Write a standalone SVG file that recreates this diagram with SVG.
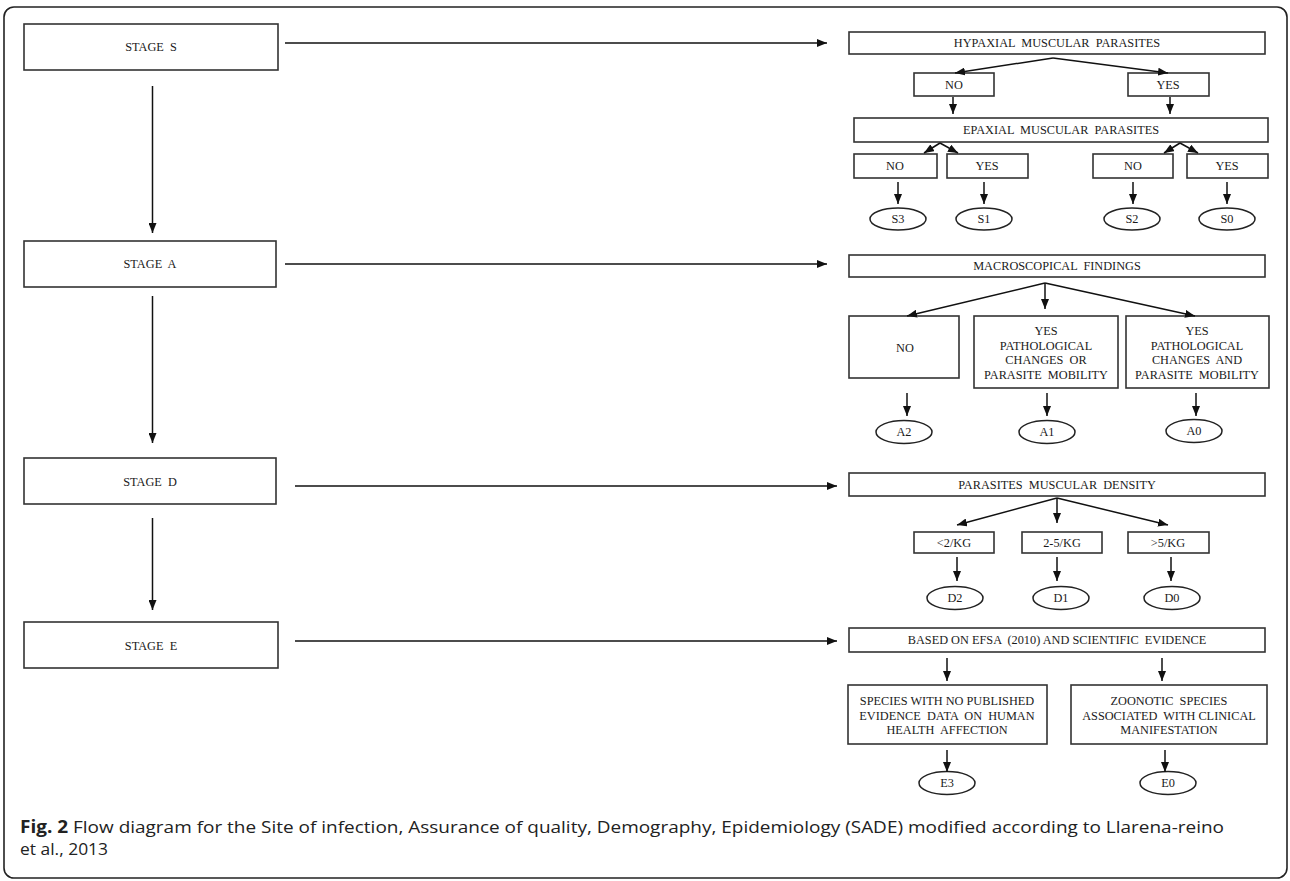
<svg xmlns="http://www.w3.org/2000/svg" width="1290" height="881" viewBox="0 0 1290 881">
<defs>
<marker id="ah" markerUnits="userSpaceOnUse" markerWidth="10" markerHeight="8" refX="10" refY="4" orient="auto"><path d="M0,0 L10,4 L0,8 z" fill="#111"/></marker>
<style>
.box{fill:#fff;stroke:#333;stroke-width:1.6}
.ell{fill:#fff;stroke:#222;stroke-width:1.5}
.t{font-family:"Liberation Serif","Times New Roman",serif;font-size:12.3px;fill:#1a1a1a;text-anchor:middle;dominant-baseline:central;white-space:pre}
.c{stroke:#111;stroke-width:1.5;fill:none;marker-end:url(#ah)}
.cap{font-family:"Open Sans","Noto Sans",sans-serif;font-size:17px;fill:#222}
</style>
</defs>
<rect width="1290" height="881" fill="#fff"/>
<rect x="4" y="7" width="1283" height="871" rx="10" fill="none" stroke="#222" stroke-width="1.6"/>

<g id="stageS"><rect class="box" x="24" y="24" width="254" height="46"/><text class="t" x="151" y="47">STAGE  S</text></g>
<g id="stageA"><rect class="box" x="24" y="241" width="252" height="46"/><text class="t" x="150" y="264">STAGE  A</text></g>
<g id="stageD"><rect class="box" x="24" y="458" width="252" height="46"/><text class="t" x="150" y="482">STAGE  D</text></g>
<g id="stageE"><rect class="box" x="24" y="622" width="254" height="46"/><text class="t" x="151" y="646">STAGE  E</text></g>

<g id="hyp"><rect class="box" x="849" y="32" width="416" height="22"/><text class="t" x="1057" y="43">HYPAXIAL  MUSCULAR  PARASITES</text></g>
<g id="hypNo"><rect class="box" x="914" y="73" width="80" height="23"/><text class="t" x="954" y="85">NO</text></g>
<g id="hypYes"><rect class="box" x="1128" y="73" width="81" height="23"/><text class="t" x="1168" y="85">YES</text></g>
<g id="epa"><rect class="box" x="854" y="118" width="414" height="24"/><text class="t" x="1061" y="130">EPAXIAL  MUSCULAR  PARASITES</text></g>
<g id="epaNo1"><rect class="box" x="854" y="154" width="83" height="24"/><text class="t" x="895" y="166">NO</text></g>
<g id="epaYes1"><rect class="box" x="947" y="154" width="81" height="24"/><text class="t" x="987" y="166">YES</text></g>
<g id="epaNo2"><rect class="box" x="1093" y="154" width="80" height="24"/><text class="t" x="1133" y="166">NO</text></g>
<g id="epaYes2"><rect class="box" x="1187" y="154" width="81" height="24"/><text class="t" x="1227" y="166">YES</text></g>
<g id="S3"><ellipse class="ell" cx="898" cy="219" rx="28" ry="11"/><text class="t" x="898" y="219">S3</text></g>
<g id="S1"><ellipse class="ell" cx="984" cy="219" rx="28" ry="11"/><text class="t" x="984" y="219">S1</text></g>
<g id="S2"><ellipse class="ell" cx="1132" cy="219" rx="28" ry="11"/><text class="t" x="1132" y="219">S2</text></g>
<g id="S0"><ellipse class="ell" cx="1227" cy="219" rx="28" ry="11"/><text class="t" x="1227" y="219">S0</text></g>

<g id="macro"><rect class="box" x="849" y="255" width="416" height="22"/><text class="t" x="1057" y="266">MACROSCOPICAL  FINDINGS</text></g>
<g id="aNo"><rect class="box" x="849" y="316" width="110" height="62"/><text class="t" x="905" y="348">NO</text></g>
<g id="aYesOr"><rect class="box" x="974" y="316" width="144" height="72"/><text class="t" x="1046"><tspan x="1046" y="331">YES</tspan><tspan x="1046" y="345.5">PATHOLOGICAL</tspan><tspan x="1046" y="360">CHANGES  OR</tspan><tspan x="1046" y="374.5">PARASITE  MOBILITY</tspan></text></g>
<g id="aYesAnd"><rect class="box" x="1126" y="316" width="143" height="72"/><text class="t" x="1197"><tspan x="1197" y="331">YES</tspan><tspan x="1197" y="345.5">PATHOLOGICAL</tspan><tspan x="1197" y="360">CHANGES  AND</tspan><tspan x="1197" y="374.5">PARASITE  MOBILITY</tspan></text></g>
<g id="A2"><ellipse class="ell" cx="904" cy="432" rx="28" ry="11.5"/><text class="t" x="904" y="432">A2</text></g>
<g id="A1"><ellipse class="ell" cx="1047" cy="432" rx="28" ry="11.5"/><text class="t" x="1047" y="432">A1</text></g>
<g id="A0"><ellipse class="ell" cx="1194" cy="431" rx="28" ry="11.5"/><text class="t" x="1194" y="431">A0</text></g>

<g id="dens"><rect class="box" x="849" y="473" width="416" height="23"/><text class="t" x="1057" y="485">PARASITES  MUSCULAR  DENSITY</text></g>
<g id="d1box"><rect class="box" x="914" y="532" width="80" height="21"/><text class="t" x="954" y="543">&lt;2/KG</text></g>
<g id="d2box"><rect class="box" x="1022" y="532" width="80" height="21"/><text class="t" x="1062" y="543">2-5/KG</text></g>
<g id="d3box"><rect class="box" x="1128" y="532" width="81" height="21"/><text class="t" x="1168" y="543">&gt;5/KG</text></g>
<g id="D2"><ellipse class="ell" cx="955" cy="598" rx="28" ry="11.5"/><text class="t" x="955" y="598">D2</text></g>
<g id="D1"><ellipse class="ell" cx="1061" cy="598" rx="28" ry="11.5"/><text class="t" x="1061" y="598">D1</text></g>
<g id="D0"><ellipse class="ell" cx="1172" cy="598" rx="28" ry="11.5"/><text class="t" x="1172" y="598">D0</text></g>

<g id="efsa"><rect class="box" x="849" y="628" width="416" height="24"/><text class="t" x="1057" y="640">BASED ON EFSA  (2010) AND SCIENTIFIC  EVIDENCE</text></g>
<g id="eLeft"><rect class="box" x="848" y="685" width="199" height="59"/><text class="t" x="947"><tspan x="947" y="701">SPECIES WITH NO PUBLISHED</tspan><tspan x="947" y="716">EVIDENCE  DATA  ON  HUMAN</tspan><tspan x="947" y="730">HEALTH  AFFECTION</tspan></text></g>
<g id="eRight"><rect class="box" x="1071" y="685" width="196" height="59"/><text class="t" x="1169"><tspan x="1169" y="701">ZOONOTIC  SPECIES</tspan><tspan x="1169" y="716">ASSOCIATED  WITH CLINICAL</tspan><tspan x="1169" y="730">MANIFESTATION</tspan></text></g>
<g id="E3"><ellipse class="ell" cx="947" cy="783" rx="28" ry="11.5"/><text class="t" x="947" y="783">E3</text></g>
<g id="E0"><ellipse class="ell" cx="1168" cy="783" rx="28" ry="11.5"/><text class="t" x="1168" y="783">E0</text></g>

<g id="connectors">
<line class="c" x1="152.5" y1="86" x2="152.5" y2="233"/>
<line class="c" x1="152.5" y1="296" x2="152.5" y2="443"/>
<line class="c" x1="152.5" y1="518" x2="152.5" y2="610"/>
<line class="c" x1="285" y1="43" x2="827" y2="43"/>
<line class="c" x1="285" y1="264" x2="827" y2="264"/>
<line class="c" x1="295" y1="486" x2="837" y2="486"/>
<line class="c" x1="295" y1="641" x2="837" y2="641"/>

<line class="c" x1="1053" y1="58" x2="955" y2="73"/>
<line class="c" x1="1053" y1="58" x2="1168" y2="73"/>
<line class="c" x1="953" y1="97" x2="953" y2="114"/>
<line class="c" x1="1170" y1="97" x2="1170" y2="114"/>
<line class="c" x1="940" y1="143" x2="924" y2="153"/>
<line class="c" x1="940" y1="143" x2="958" y2="153"/>
<line class="c" x1="1180" y1="143" x2="1164" y2="153"/>
<line class="c" x1="1180" y1="143" x2="1198" y2="153"/>
<line class="c" x1="898" y1="182" x2="898" y2="204"/>
<line class="c" x1="984" y1="182" x2="984" y2="204"/>
<line class="c" x1="1133" y1="182" x2="1133" y2="204"/>
<line class="c" x1="1227" y1="182" x2="1227" y2="204"/>

<line class="c" x1="1045" y1="283" x2="907" y2="316"/>
<line class="c" x1="1045" y1="283" x2="1045" y2="309"/>
<line class="c" x1="1045" y1="283" x2="1195" y2="316"/>
<line class="c" x1="907" y1="393" x2="907" y2="416"/>
<line class="c" x1="1047" y1="393" x2="1047" y2="416"/>
<line class="c" x1="1196" y1="393" x2="1196" y2="416"/>

<line class="c" x1="1057" y1="498" x2="957" y2="525"/>
<line class="c" x1="1057" y1="498" x2="1057" y2="523"/>
<line class="c" x1="1057" y1="498" x2="1168" y2="525"/>
<line class="c" x1="957" y1="557" x2="957" y2="581"/>
<line class="c" x1="1057" y1="557" x2="1057" y2="581"/>
<line class="c" x1="1171" y1="557" x2="1171" y2="581"/>

<line class="c" x1="947" y1="658" x2="947" y2="681"/>
<line class="c" x1="1162" y1="658" x2="1162" y2="681"/>
<line class="c" x1="947" y1="750" x2="947" y2="772"/>
<line class="c" x1="1165" y1="750" x2="1165" y2="772"/>
</g>

<text class="cap" x="20" y="833" textLength="1204" lengthAdjust="spacingAndGlyphs"><tspan font-weight="bold">Fig. 2</tspan> Flow diagram for the Site of infection, Assurance of quality, Demography, Epidemiology (SADE) modified according to Llarena-reino</text>
<text class="cap" x="20" y="855" textLength="88" lengthAdjust="spacingAndGlyphs">et al., 2013</text>
</svg>
